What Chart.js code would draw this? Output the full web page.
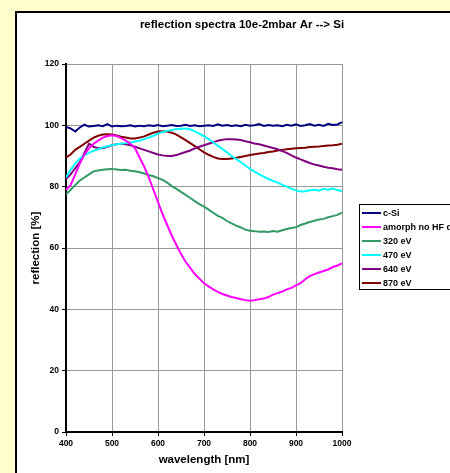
<!DOCTYPE html>
<html>
<head>
<meta charset="utf-8">
<script src="https://cdn.jsdelivr.net/npm/chart.js@4"></script>
<style>
  html, body { margin: 0; padding: 0; width: 450px; height: 473px; overflow: hidden; background: #FFFFCC; }
  #frame { position: absolute; left: 15px; top: 11px; width: 480px; height: 480px; background: #fff; border-left: 2px solid #000; border-top: 2px solid #000; }
  #grafico { position: absolute; left: 0; top: 0; }
</style>
</head>
<body>
<div id="frame"></div>
<canvas id="grafico" width="484" height="473"></canvas>
<script>
const longitudes = [400, 410, 420, 430, 440, 450, 460, 470, 480, 490, 500, 510, 520, 530, 540, 550, 560, 570, 580, 590,
  600, 610, 620, 630, 640, 650, 660, 670, 680, 690, 700, 710, 720, 730, 740, 750, 760, 770, 780, 790,
  800, 810, 820, 830, 840, 850, 860, 870, 880, 890, 900, 910, 920, 930, 940, 950, 960, 970, 980, 990, 1000];

const cSi = [99.5, 99.0, 98.0, 99.3, 100.2, 99.6, 99.8, 100.0, 99.7, 100.4, 99.6, 99.9, 99.7, 99.8, 100.0, 99.6, 99.9, 99.7, 100.0, 99.8,
  100.1, 99.7, 99.9, 100.1, 99.8, 99.9, 100.2, 99.8, 100.0, 99.7, 99.9, 100.0, 99.8, 100.3, 99.9, 100.1, 99.8, 100.0, 99.7, 100.2,
  99.9, 100.0, 100.4, 99.8, 100.1, 99.9, 100.0, 99.7, 100.2, 99.9, 100.3, 99.8, 100.0, 100.4, 99.9, 100.2, 99.8, 100.5, 100.1, 100.3, 101.0];

const amorfo = [79.0, 80.5, 84.0, 87.5, 90.5, 92.5, 94.0, 95.0, 96.0, 96.5, 96.8, 96.5, 95.8, 95.0, 94.0, 92.5, 89.5, 86.5, 83.0, 79.0,
  75.0, 71.0, 67.5, 64.0, 61.0, 58.0, 55.5, 53.5, 51.5, 50.0, 48.5, 47.5, 46.5, 45.7, 45.0, 44.5, 44.0, 43.7, 43.3, 43.0,
  42.8, 43.0, 43.3, 43.5, 44.0, 44.8, 45.3, 45.8, 46.5, 47.0, 47.8, 48.5, 49.8, 50.8, 51.5, 52.0, 52.5, 53.0, 53.8, 54.3, 55.0];

const ev320 = [77.5, 79.0, 80.5, 82.0, 83.0, 84.0, 85.0, 85.3, 85.5, 85.7, 85.8, 85.6, 85.4, 85.5, 85.2, 85.0, 84.7, 84.3, 83.8, 83.4,
  82.8, 82.2, 81.3, 80.2, 79.3, 78.3, 77.3, 76.3, 75.3, 74.3, 73.5, 72.5, 71.5, 70.5, 69.8, 68.8, 68.0, 67.3, 66.7, 66.0,
  65.6, 65.5, 65.3, 65.4, 65.2, 65.5, 65.3, 65.8, 66.2, 66.5, 66.8, 67.5, 68.0, 68.5, 68.9, 69.3, 69.5, 70.0, 70.4, 70.8, 71.5];

const ev470 = [83.0, 85.5, 87.5, 89.2, 90.3, 91.0, 91.7, 92.2, 92.8, 93.2, 93.5, 93.8, 94.0, 94.2, 94.4, 94.7, 95.0, 95.5, 96.0, 96.6,
  97.3, 97.8, 98.2, 98.5, 98.7, 98.9, 99.0, 98.7, 98.0, 97.3, 96.5, 95.5, 94.5, 93.4, 92.3, 91.2, 90.0, 89.0, 88.0, 86.9,
  85.8, 84.9, 84.0, 83.3, 82.5, 81.9, 81.3, 80.6, 80.0, 79.3, 78.8, 78.4, 78.5, 78.8, 79.0, 78.7, 79.3, 79.0, 79.4, 78.9, 78.5];

const ev640 = [82.5, 84.0, 86.0, 88.0, 91.0, 94.0, 93.0, 92.5, 92.5, 93.0, 93.5, 93.8, 94.0, 93.8, 93.5, 93.0, 92.5, 92.0, 91.5, 91.0,
  90.5, 90.2, 90.0, 90.0, 90.3, 90.8, 91.3, 91.8, 92.5, 93.0, 93.5, 94.0, 94.5, 95.0, 95.3, 95.5, 95.5, 95.4, 95.2, 94.8,
  94.5, 94.1, 93.8, 93.4, 93.0, 92.6, 92.2, 91.6, 91.0, 90.2, 89.5, 88.9, 88.3, 87.7, 87.2, 86.9, 86.5, 86.2, 86.0, 85.7, 85.5];

const ev870 = [89.5, 90.5, 92.0, 93.0, 94.0, 95.0, 96.0, 96.6, 97.0, 97.1, 97.0, 96.7, 96.3, 96.0, 95.7, 95.7, 96.0, 96.4, 97.0, 97.6,
  98.0, 98.1, 98.0, 97.6, 97.0, 96.1, 95.2, 94.2, 93.2, 92.2, 91.2, 90.4, 89.7, 89.2, 89.0, 89.0, 89.2, 89.4, 89.7, 90.0,
  90.3, 90.6, 90.8, 91.0, 91.3, 91.5, 91.8, 92.0, 92.2, 92.4, 92.5, 92.6, 92.7, 92.9, 93.0, 93.1, 93.3, 93.4, 93.5, 93.7, 94.0];

const etiquetas = ['c-Si', 'amorph no HF dip', '320 eV', '470 eV', '640 eV', '870 eV'];
const colores = ['#000080', '#FF00FF', '#339966', '#00FFFF', '#800080', '#800000'];
const series = [cSi, amorfo, ev320, ev470, ev640, ev870];

const fuente = "Arial, 'Liberation Sans', sans-serif";

// leyenda con recuadro, como en Excel
const leyenda = {
  id: 'leyenda',
  afterDraw(chart) {
    const ctx = chart.ctx;
    ctx.save();
    ctx.strokeStyle = '#000';
    ctx.lineWidth = 1;
    ctx.strokeRect(359.5, 204.5, 200, 85);
    ctx.font = 'bold 9px ' + fuente;
    ctx.textBaseline = 'middle';
    chart.data.datasets.forEach((ds, i) => {
      const y = 213 + 14 * i;
      ctx.strokeStyle = ds.borderColor;
      ctx.lineWidth = 2;
      ctx.beginPath();
      ctx.moveTo(362, y);
      ctx.lineTo(381, y);
      ctx.stroke();
      ctx.fillStyle = '#000';
      ctx.fillText(ds.label, 383, y + 0.5);
    });
    ctx.restore();
  }
};

new Chart(document.getElementById('grafico'), {
  type: 'line',
  data: {
    datasets: series.map((s, i) => ({
      label: etiquetas[i],
      data: longitudes.map((x, j) => ({ x: x, y: s[j] })),
      borderColor: colores[i],
      backgroundColor: colores[i],
      borderWidth: 2,
      pointRadius: 0,
      tension: 0,
      fill: false
    }))
  },
  options: {
    responsive: false,
    animation: false,
    layout: { padding: 0 },
    plugins: {
      legend: { display: false },
      tooltip: { enabled: false },
      title: {
        display: true,
        text: 'reflection spectra 10e-2mbar Ar --> Si',
        color: '#000',
        font: { family: fuente, size: 11.5, weight: 'bold' },
        padding: { top: 18, bottom: 32.2 }
      }
    },
    scales: {
      x: {
        type: 'linear',
        min: 400,
        max: 1000,
        ticks: { stepSize: 100, color: '#000', padding: 3, maxRotation: 0, callback: v => String(v), font: { family: fuente, size: 8.5, weight: 'bold' } },
        grid: { color: '#999', lineWidth: 1, tickLength: 4, tickColor: '#000' },
        border: { color: '#000', width: 2 },
        title: { display: true, text: 'wavelength [nm]', color: '#000', padding: { bottom: 6 }, font: { family: fuente, size: 11.5, weight: 'bold' } },
        afterFit: s => { s.height = 41; }
      },
      y: {
        min: 0,
        max: 120,
        ticks: { stepSize: 20, color: '#000', padding: 3, font: { family: fuente, size: 8.5, weight: 'bold' } },
        grid: { color: '#999', lineWidth: 1, tickLength: 4, tickColor: '#000' },
        border: { color: '#000', width: 2 },
        title: { display: true, text: 'reflection [%]', color: '#000', padding: { top: 29 }, font: { family: fuente, size: 11.5, weight: 'bold' } },
        afterFit: s => { s.width = 66; }
      },
      hueco: {
        type: 'linear',
        position: 'right',
        display: true,
        ticks: { display: false },
        grid: { display: false },
        border: { display: false },
        afterFit: s => { s.width = 142; }
      }
    }
  },
  plugins: [leyenda]
});
</script>
</body>
</html>
